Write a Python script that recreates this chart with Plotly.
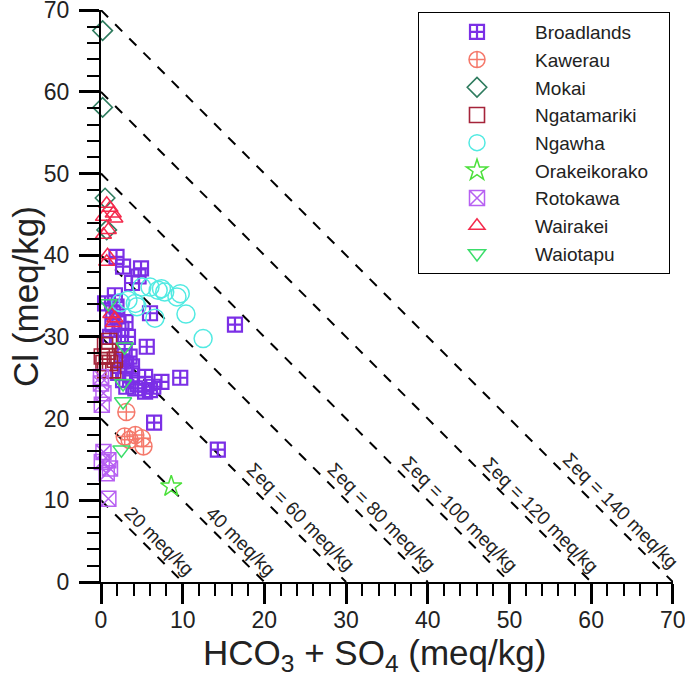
import plotly.graph_objects as go

# ---------------- data (meq/kg) ----------------
broadlands_x = [1.9, 2.7, 4.9, 4.6, 3.8, 1.7, 0.5, 1.9, 6.0, 16.4, 5.6, 7.4, 9.7, 6.4, 6.5, 14.3,
                1.1, 2.1, 3.3, 3.5, 3.1, 3.8, 2.1, 3.8, 5.4, 2.7, 3.1, 4.2, 5.4, 6.0,
                1.4, 2.5, 2.0, 2.9, 2.5, 4.5, 1.5, 3.0]
broadlands_y = [39.8, 38.6, 38.4, 37.4, 36.6, 35.1, 34.1, 33.7, 32.9, 31.5, 28.8, 24.5, 25.0, 23.9, 19.5, 16.2,
                30.0, 30.0, 30.0, 27.6, 26.6, 26.4, 25.6, 25.3, 25.1, 24.7, 23.9, 23.7, 23.3, 23.5,
                31.5, 31.0, 32.5, 28.5, 27.0, 24.2, 33.0, 31.8]

kawerau_x = [3.1, 2.9, 4.2, 5.0, 5.2, 3.5]
kawerau_y = [20.8, 17.8, 18.0, 17.6, 16.6, 17.4]

mokai_x = [0.2, 0.2, 0.5, 0.7]
mokai_y = [67.5, 58.1, 47.0, 43.1]

ngatamariki_x = [0.5, 0.9, 0.7, 0.3, 1.1, 1.7, 0.5, 1.5, 0.1, 1.0]
ngatamariki_y = [29.0, 28.2, 27.6, 26.8, 26.8, 27.2, 25.9, 25.9, 27.6, 29.5]

ngawha_x = [3.3, 4.2, 5.0, 6.0, 7.0, 7.4, 7.8, 9.3, 9.7, 10.4, 12.5, 6.6, 4.4, 2.4]
ngawha_y = [34.5, 34.1, 36.1, 36.1, 35.7, 35.9, 35.5, 34.9, 35.3, 32.8, 29.8, 32.3, 33.7, 34.2]

orakeikorako_x = [8.6]
orakeikorako_y = [11.7]

rotokawa_x = [0.0, 0.0, 0.3, 0.1, 0.3, 0.9, 1.1, 0.7, 0.9, 0.1]
rotokawa_y = [25.1, 24.3, 23.1, 21.7, 15.9, 14.9, 13.9, 13.3, 10.2, 14.7]

wairakei_x = [0.7, 1.1, 1.5, 1.7, 0.3, 0.9, 0.3, 0.8, 0.7, 1.7, 1.5, 1.2]
wairakei_y = [46.3, 45.8, 45.1, 44.5, 44.7, 43.1, 42.5, 40.0, 39.2, 32.3, 31.7, 32.8]

waiotapu_x = [0.9, 2.9, 2.7, 2.7, 2.5]
waiotapu_y = [34.1, 28.8, 24.3, 22.1, 16.2]

# iso-sum lines: x + y = half of sum of equivalents
sum_eq_levels = [20, 40, 60, 80, 100, 120, 140]
sum_eq_labels = ["20 meq/kg", "40 meq/kg", "\u03a3eq = 60 meq/kg", "\u03a3eq = 80 meq/kg",
                 "\u03a3eq = 100 meq/kg", "\u03a3eq = 120 meq/kg", "\u03a3eq = 140 meq/kg"]
label_x = [7.2, 17.1, 24.4, 34.3, 44.0, 53.9, 63.6]
label_y = [5.0, 4.9, 8.0, 8.0, 8.3, 8.2, 8.8]

x_ticks = [0, 10, 20, 30, 40, 50, 60, 70]
y_ticks = [0, 10, 20, 30, 40, 50, 60, 70]

x_title = "HCO<sub>3</sub> + SO<sub>4</sub> (meq/kg)"
y_title = "Cl (meq/kg)"

# ---------------- figure ----------------
FONT = "Arial, Liberation Sans, sans-serif"
series = [
    ("Broadlands", broadlands_x, broadlands_y, "square-cross-open", "#7B2FE6", 14, 2.2),
    ("Kawerau", kawerau_x, kawerau_y, "circle-cross-open", "#F5796B", 17, 1.5),
    ("Mokai", mokai_x, mokai_y, "diamond-open", "#2E7B5E", 15, 1.6),
    ("Ngatamariki", ngatamariki_x, ngatamariki_y, "square-open", "#A5243A", 15, 1.6),
    ("Ngawha", ngawha_x, ngawha_y, "circle-open", "#52EAE2", 18, 1.5),
    ("Orakeikorako\u00a0\u00a0\u00a0", orakeikorako_x, orakeikorako_y, "star-open", "#4BE03A", 16, 1.5),
    ("Rotokawa", rotokawa_x, rotokawa_y, "square-x-open", "#B760F2", 15, 1.5),
    ("Wairakei", wairakei_x, wairakei_y, "triangle-up-open", "#F42A4C", 14, 1.5),
    ("Waiotapu", waiotapu_x, waiotapu_y, "triangle-down-open", "#3BDD6A", 15, 1.5),
]

fig = go.Figure()
for name, xs, ys, sym, col, size, lw in series:
    fig.add_trace(go.Scatter(
        x=xs, y=ys, mode="markers", name=name, cliponaxis=False,
        marker=dict(symbol=sym, size=size, color=col, line=dict(width=lw, color=col)),
    ))

for lvl in sum_eq_levels:
    half = lvl / 2
    fig.add_shape(type="line", xref="x", yref="y", x0=0, y0=half, x1=half, y1=0,
                  line=dict(color="black", width=2, dash="10px,10px"), layer="below")

for txt, lx, ly in zip(sum_eq_labels, label_x, label_y):
    fig.add_annotation(x=lx, y=ly, xref="x", yref="y", text=txt, showarrow=False,
                       textangle=45, font=dict(family=FONT, size=19, color="#222"))

# axis titles
fig.add_annotation(x=0.479, y=-0.1276, xref="paper", yref="paper", text=x_title,
                   showarrow=False, xanchor="center", yanchor="middle",
                   font=dict(family=FONT, size=35, color="#222"))
fig.add_annotation(x=-0.133, y=0.5, xref="paper", yref="paper", text=y_title,
                   showarrow=False, xanchor="center", yanchor="middle", textangle=-90,
                   font=dict(family=FONT, size=35, color="#222"))

axis_common = dict(
    range=[0, 70.02], showgrid=False, zeroline=False, showline=True, linecolor="black",
    linewidth=2, ticks="outside", ticklen=20, tickwidth=2.5, tickcolor="black",
    tickfont=dict(family=FONT, size=23, color="#222"), automargin=False,
    ticklabeloverflow="allow",
    minor=dict(ticks="outside", ticklen=12, tickwidth=2, tickcolor="black", dtick=2),
)

fig.update_xaxes(tickvals=x_ticks, ticklabelstandoff=-4, **axis_common)
fig.update_yaxes(tickvals=y_ticks, ticklabelstandoff=5, **axis_common)

fig.update_layout(
    width=685, height=678,
    margin=dict(l=101, r=12, t=10, b=96),
    plot_bgcolor="white", paper_bgcolor="white",
    font=dict(family=FONT, color="#222"),
    legend=dict(x=0.5542, y=0.9965, xanchor="left", yanchor="top",
                bordercolor="black", borderwidth=1, bgcolor="white",
                itemwidth=106, font=dict(family=FONT, size=19, color="#222")),
)

fig.write_html("out.html", config={"displayModeBar": False},
               post_script="document.body.style.margin='0px';")
